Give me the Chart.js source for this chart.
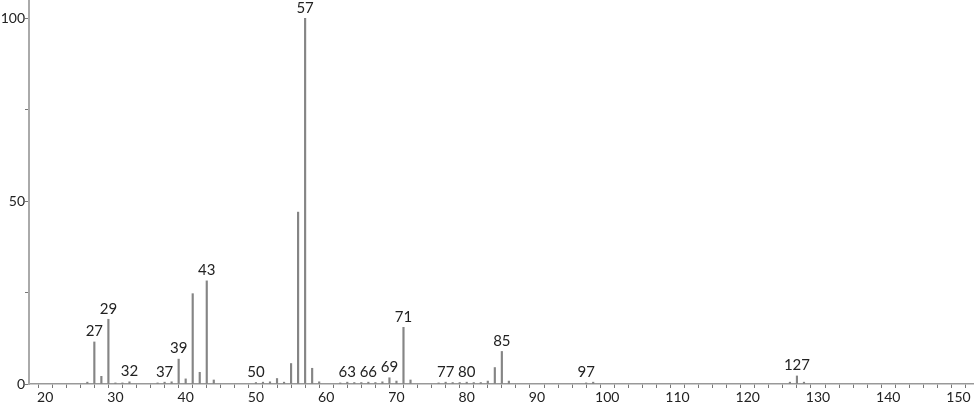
<!DOCTYPE html>
<html lang="en">
<head>
<meta charset="UTF-8">
<title>Mass Spectrum</title>
<script src="https://cdn.jsdelivr.net/npm/chart.js"></script>
<style>
  body { margin: 0; background: #fff; }
</style>
</head>
<body>
<canvas id="spectrum" width="974" height="406"></canvas>
<script>
// m/z values and relative intensity (%)
const mz = [26, 27, 28, 29, 30, 31, 32, 36, 37, 38, 39, 40, 41, 42, 43, 44,
            50, 51, 52, 53, 54, 55, 56, 57, 58, 59, 62, 63, 64, 65, 66, 67, 68, 69, 70, 71, 72,
            76, 77, 78, 79, 80, 81, 82, 83, 84, 85, 86, 97, 98, 126, 127, 128];
const intensity = [0.5, 11.5, 2.1, 17.7, 0.3, 0.3, 0.6, 0.3, 0.5, 0.6, 6.8, 1.4, 24.7, 3.2, 28.2, 1.1,
                   0.4, 0.5, 0.6, 1.5, 0.5, 5.6, 47.0, 100, 4.3, 0.6, 0.3, 0.5, 0.4, 0.4, 0.5, 0.4, 0.6, 1.7, 0.8, 15.5, 1.1,
                   0.3, 0.5, 0.4, 0.4, 0.5, 0.4, 0.4, 0.8, 4.5, 8.9, 0.8, 0.3, 0.5, 0.5, 2.2, 0.5];
// peaks that get their m/z written above them
const labelledPeaks = [27, 29, 32, 37, 39, 43, 50, 57, 63, 66, 69, 71, 77, 80, 85, 97, 127];

// axis ticks
const xTicks = [18, 20, 22, 24, 26, 28, 30, 32, 34, 36, 38, 40, 42, 44, 46, 48, 50, 52, 54, 56, 58, 60,
                62, 64, 66, 68, 70, 72, 74, 76, 78, 80, 82, 84, 86, 88, 90, 92, 94, 96, 98, 100,
                102, 104, 106, 108, 110, 112, 114, 116, 118, 120, 122, 124, 126, 128, 130,
                132, 134, 136, 138, 140, 142, 144, 146, 148, 150, 152];
const xLabels = [20, 30, 40, 50, 60, 70, 80, 90, 100, 110, 120, 130, 140, 150];
const yTicks = [0, 25, 50, 75, 100];
const yLabels = [0, 50, 100];

const FONT = '"Lato", "Open Sans", sans-serif';

const peakLabels = {
    id: 'peakLabels',
    afterDatasetsDraw(chart) {
        const ctx = chart.ctx;
        const meta = chart.getDatasetMeta(0);
        ctx.save();
        ctx.font = '15px ' + FONT;
        ctx.fillStyle = '#222';
        ctx.textAlign = 'center';
        ctx.textBaseline = 'bottom';
        labelledPeaks.forEach(m => {
            const i = mz.indexOf(m);
            const bar = meta.data[i];
            ctx.fillText(String(m), bar.x, bar.y - 3);
        });
        ctx.restore();
    }
};

function noPadding(s) {
    s.paddingTop = 0;
    s.paddingBottom = 0;
    s.paddingLeft = 0;
    s.paddingRight = 0;
}

new Chart(document.getElementById('spectrum').getContext('2d'), {
    type: 'bar',
    data: {
        datasets: [{
            data: mz.map((m, i) => ({ x: m, y: intensity[i] })),
            backgroundColor: '#858585',
            barThickness: 1.5
        }]
    },
    options: {
        responsive: false,
        animation: false,
        layout: { padding: 0 },
        plugins: {
            legend: { display: false },
            tooltip: { enabled: false }
        },
        scales: {
            x: {
                type: 'linear',
                offset: false,
                min: 17.7,
                max: 152.2,
                afterBuildTicks: s => { s.ticks = xTicks.map(v => ({ value: v })); },
                afterFit: s => { s.height = 22; noPadding(s); },
                border: { color: '#999', width: 1.5 },
                grid: { drawOnChartArea: false, tickLength: 4, color: '#777' },
                ticks: {
                    autoSkip: false,
                    maxRotation: 0,
                    padding: 1,
                    color: '#222',
                    font: { family: FONT, size: 14 },
                    callback: v => xLabels.includes(v) ? String(v) : ''
                }
            },
            y: {
                min: 0,
                max: 105,
                afterBuildTicks: s => { s.ticks = yTicks.map(v => ({ value: v })); },
                afterFit: s => { s.width = 29; noPadding(s); },
                border: { color: '#aaa', width: 2 },
                grid: { drawOnChartArea: false, tickLength: 4, color: '#777' },
                ticks: {
                    padding: 0,
                    color: '#222',
                    font: { family: FONT, size: 14 },
                    callback: v => yLabels.includes(v) ? String(v) : ''
                }
            }
        }
    },
    plugins: [peakLabels]
});
</script>
</body>
</html>
